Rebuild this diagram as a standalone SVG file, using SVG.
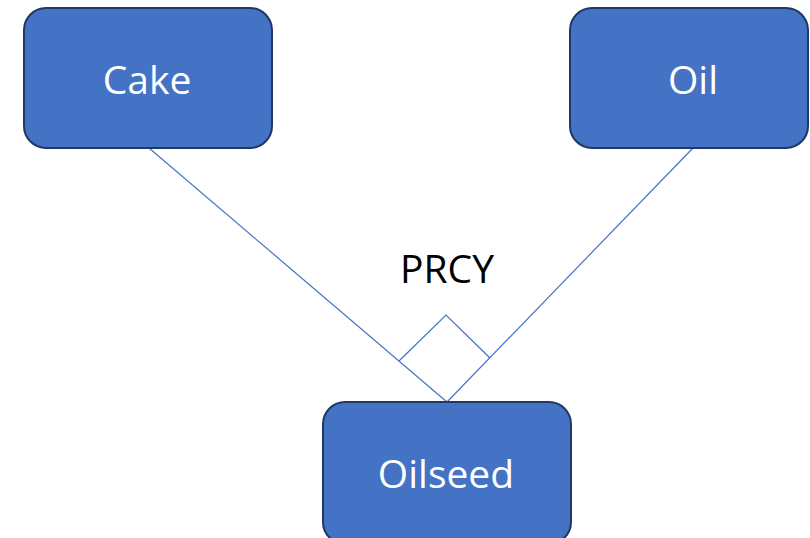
<svg xmlns="http://www.w3.org/2000/svg" width="810" height="538" viewBox="0 0 810 538">
  <style>
    .box { fill: #4472C4; stroke: #1F3864; stroke-width: 2; }
    .lbl { fill: #FFFFFF; font-family: "Open Sans", "Liberation Sans", sans-serif; font-size: 39px; text-anchor: middle; }
    .conn { fill: none; stroke: #4472C4; stroke-width: 1.2; }
    .title { fill: #000000; font-family: "Open Sans", "Liberation Sans", sans-serif; font-size: 39px; text-anchor: middle; }
  </style>
  <rect width="810" height="538" fill="#FFFFFF"/>
  <g id="connectors">
    <line class="conn" x1="149" y1="148" x2="447" y2="402"/>
    <line class="conn" x1="693" y1="148" x2="447" y2="402"/>
    <polyline class="conn" points="399,361 446,315 490,358"/>
  </g>
  <g id="label-prcy">
    <text class="title" x="447" y="283">PRCY</text>
  </g>
  <g id="node-cake">
    <rect class="box" x="24" y="8" width="248" height="140" rx="22" ry="22"/>
    <text class="lbl" x="147" y="94">Cake</text>
  </g>
  <g id="node-oil">
    <rect class="box" x="570" y="8" width="238" height="140" rx="22" ry="22"/>
    <text class="lbl" x="693" y="94">Oil</text>
  </g>
  <g id="node-oilseed">
    <rect class="box" x="323" y="402" width="248" height="142" rx="22" ry="22"/>
    <text class="lbl" x="446" y="488">Oilseed</text>
  </g>
</svg>
